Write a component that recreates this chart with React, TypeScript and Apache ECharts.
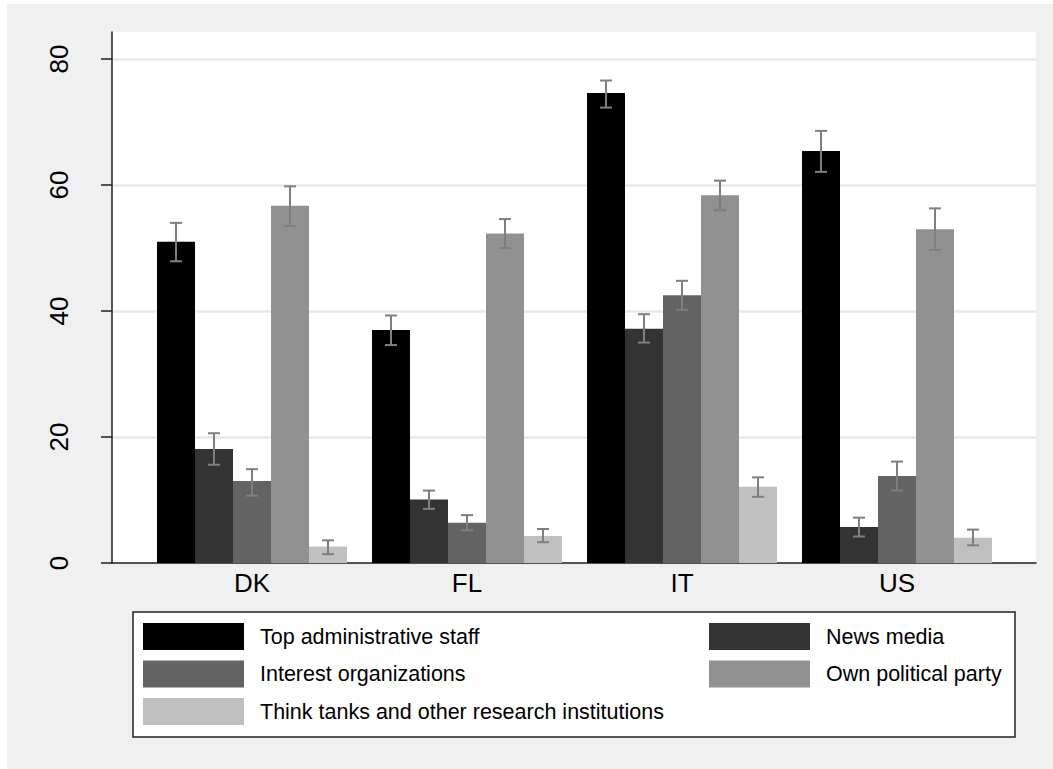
import React, { useEffect, useRef } from "react";
import * as echarts from "echarts";

const categories = ["DK", "FL", "IT", "US"];
const seriesNames = [
  "Top administrative staff",
  "News media",
  "Interest organizations",
  "Own political party",
  "Think tanks and other research institutions",
];
const seriesColors = ["#000000", "#333333", "#636363", "#919191", "#c0c0c0"];

const topAdmin = [51.0, 37.0, 74.6, 65.4];
const topAdminLow = [47.9, 34.6, 72.3, 62.1];
const topAdminHigh = [54.0, 39.3, 76.6, 68.6];

const newsMedia = [18.1, 10.1, 37.2, 5.7];
const newsMediaLow = [15.6, 8.6, 35.0, 4.2];
const newsMediaHigh = [20.6, 11.5, 39.5, 7.2];

const interestOrg = [13.0, 6.4, 42.5, 13.8];
const interestOrgLow = [10.7, 5.2, 40.2, 11.5];
const interestOrgHigh = [14.9, 7.6, 44.8, 16.1];

const ownParty = [56.7, 52.3, 58.4, 53.0];
const ownPartyLow = [53.5, 50.0, 56.0, 49.7];
const ownPartyHigh = [59.8, 54.6, 60.7, 56.3];

const thinkTanks = [2.6, 4.3, 12.1, 4.0];
const thinkTanksLow = [1.4, 3.3, 10.5, 2.8];
const thinkTanksHigh = [3.6, 5.4, 13.6, 5.3];

const yTicks = [0, 20, 40, 60, 80];

const values = [topAdmin, newsMedia, interestOrg, ownParty, thinkTanks];
const lows = [topAdminLow, newsMediaLow, interestOrgLow, ownPartyLow, thinkTanksLow];
const highs = [topAdminHigh, newsMediaHigh, interestOrgHigh, ownPartyHigh, thinkTanksHigh];

const BAR_W = 38;
const Y_MAX = 84.3;
const FONT = "'Liberation Sans', Arial, sans-serif";

export default function App() {
  const ref = useRef<HTMLDivElement>(null);

  useEffect(() => {
    if (!ref.current) return;
    const chart = echarts.init(ref.current, null, { renderer: "svg" });

    const errData: number[][] = [];
    for (let k = 0; k < values.length; k++) {
      for (let c = 0; c < categories.length; c++) {
        errData.push([c, lows[k][c], highs[k][c], k]);
      }
    }

    const barSeries = seriesNames.map((name, k) => ({
      name,
      type: "bar",
      xAxisIndex: 1,
      yAxisIndex: 1,
      barWidth: BAR_W,
      barGap: "0%",
      data: values[k],
      itemStyle: { color: seriesColors[k] },
      z: 3,
    }));

    const legendBase = {
      orient: "vertical",
      top: 623,
      padding: 0,
      itemWidth: 101,
      itemHeight: 27,
      itemGap: 10.5,
      icon: "rect",
      textStyle: { fontSize: 21.5, color: "#000", fontFamily: FONT, padding: [0, 0, 0, 11] },
      selectedMode: false,
    };

    const option: any = {
      animation: false,
      backgroundColor: "transparent",
      textStyle: { fontFamily: FONT },
      grid: [
        {
          left: 112,
          right: 17,
          top: 32,
          bottom: 206,
          show: true,
          backgroundColor: "#ffffff",
          borderWidth: 0,
        },
        {
          left: 144.5,
          right: 48.5,
          top: 32,
          bottom: 206,
        },
      ],
      xAxis: [
        {
          type: "value",
          gridIndex: 0,
          min: 0,
          max: 1,
          axisLine: { show: true, lineStyle: { color: "#222", width: 1.5 } },
          axisTick: { show: false },
          axisLabel: { show: false },
          splitLine: { show: false },
        },
        {
          type: "category",
          gridIndex: 1,
          data: categories,
          axisLine: { show: false },
          axisTick: { show: false },
          axisLabel: {
            fontSize: 26,
            color: "#000",
            margin: 7,
            fontFamily: FONT,
          },
        },
      ],
      yAxis: [
        {
          type: "value",
          gridIndex: 0,
          min: 0,
          max: Y_MAX,
          interval: 20,
          axisLine: { show: true, lineStyle: { color: "#222", width: 1.5 } },
          axisTick: { show: true, length: 11, lineStyle: { color: "#222", width: 1.5 } },
          axisLabel: {
            rotate: 90,
            fontSize: 26,
            color: "#000",
            margin: 40,
            fontFamily: FONT,
            showMaxLabel: false,
            formatter: (v: number) => (yTicks.indexOf(v) >= 0 ? String(v) : ""),
          },
          splitLine: {
            show: true,
            showMaxLine: false,
            lineStyle: { color: "#e8e8e8", width: 2.5 },
          },
        },
        {
          type: "value",
          gridIndex: 1,
          min: 0,
          max: Y_MAX,
          show: false,
          splitLine: { show: false },
        },
      ],
      legend: [
        {
          ...legendBase,
          left: 143,
          data: [seriesNames[0], seriesNames[2], seriesNames[4]],
        },
        {
          ...legendBase,
          left: 709,
          data: [seriesNames[1], seriesNames[3]],
        },
      ],
      graphic: [
        {
          type: "rect",
          shape: { x: 133, y: 612, width: 882, height: 125 },
          style: { fill: "#ffffff", stroke: "#222", lineWidth: 1.5 },
          z: 0,
          silent: true,
        },
      ],
      series: [
        ...barSeries,
        {
          type: "custom",
          xAxisIndex: 1,
          yAxisIndex: 1,
          z: 10,
          silent: true,
          encode: { x: 0, y: [1, 2] },
          data: errData,
          renderItem: (params: any, api: any) => {
            const cat = api.value(0);
            const lo = api.value(1);
            const hi = api.value(2);
            const k = api.value(3);
            const pLo = api.coord([cat, lo]);
            const pHi = api.coord([cat, hi]);
            const x = pLo[0] + (k - 2) * BAR_W;
            const stroke = "#7f7f7f";
            const lw = 2;
            return {
              type: "group",
              children: [
                { type: "line", shape: { x1: x, y1: pLo[1], x2: x, y2: pHi[1] }, style: { stroke, lineWidth: lw } },
                { type: "line", shape: { x1: x - 6, y1: pHi[1], x2: x + 6, y2: pHi[1] }, style: { stroke, lineWidth: lw } },
                { type: "line", shape: { x1: x - 6, y1: pLo[1], x2: x + 6, y2: pLo[1] }, style: { stroke, lineWidth: lw } },
              ],
            };
          },
        },
      ],
    };

    chart.setOption(option);
    return () => chart.dispose();
  }, []);

  return (
    <div style={{ position: "absolute", left: 0, top: 0, width: 1053, height: 769, background: "#ffffff" }}>
      <div style={{ position: "absolute", left: 7, top: 4, right: 0, bottom: 0, background: "#f0f0f0" }} />
      <div ref={ref} style={{ position: "absolute", left: 0, top: 0, width: 1053, height: 769 }} />
    </div>
  );
}
